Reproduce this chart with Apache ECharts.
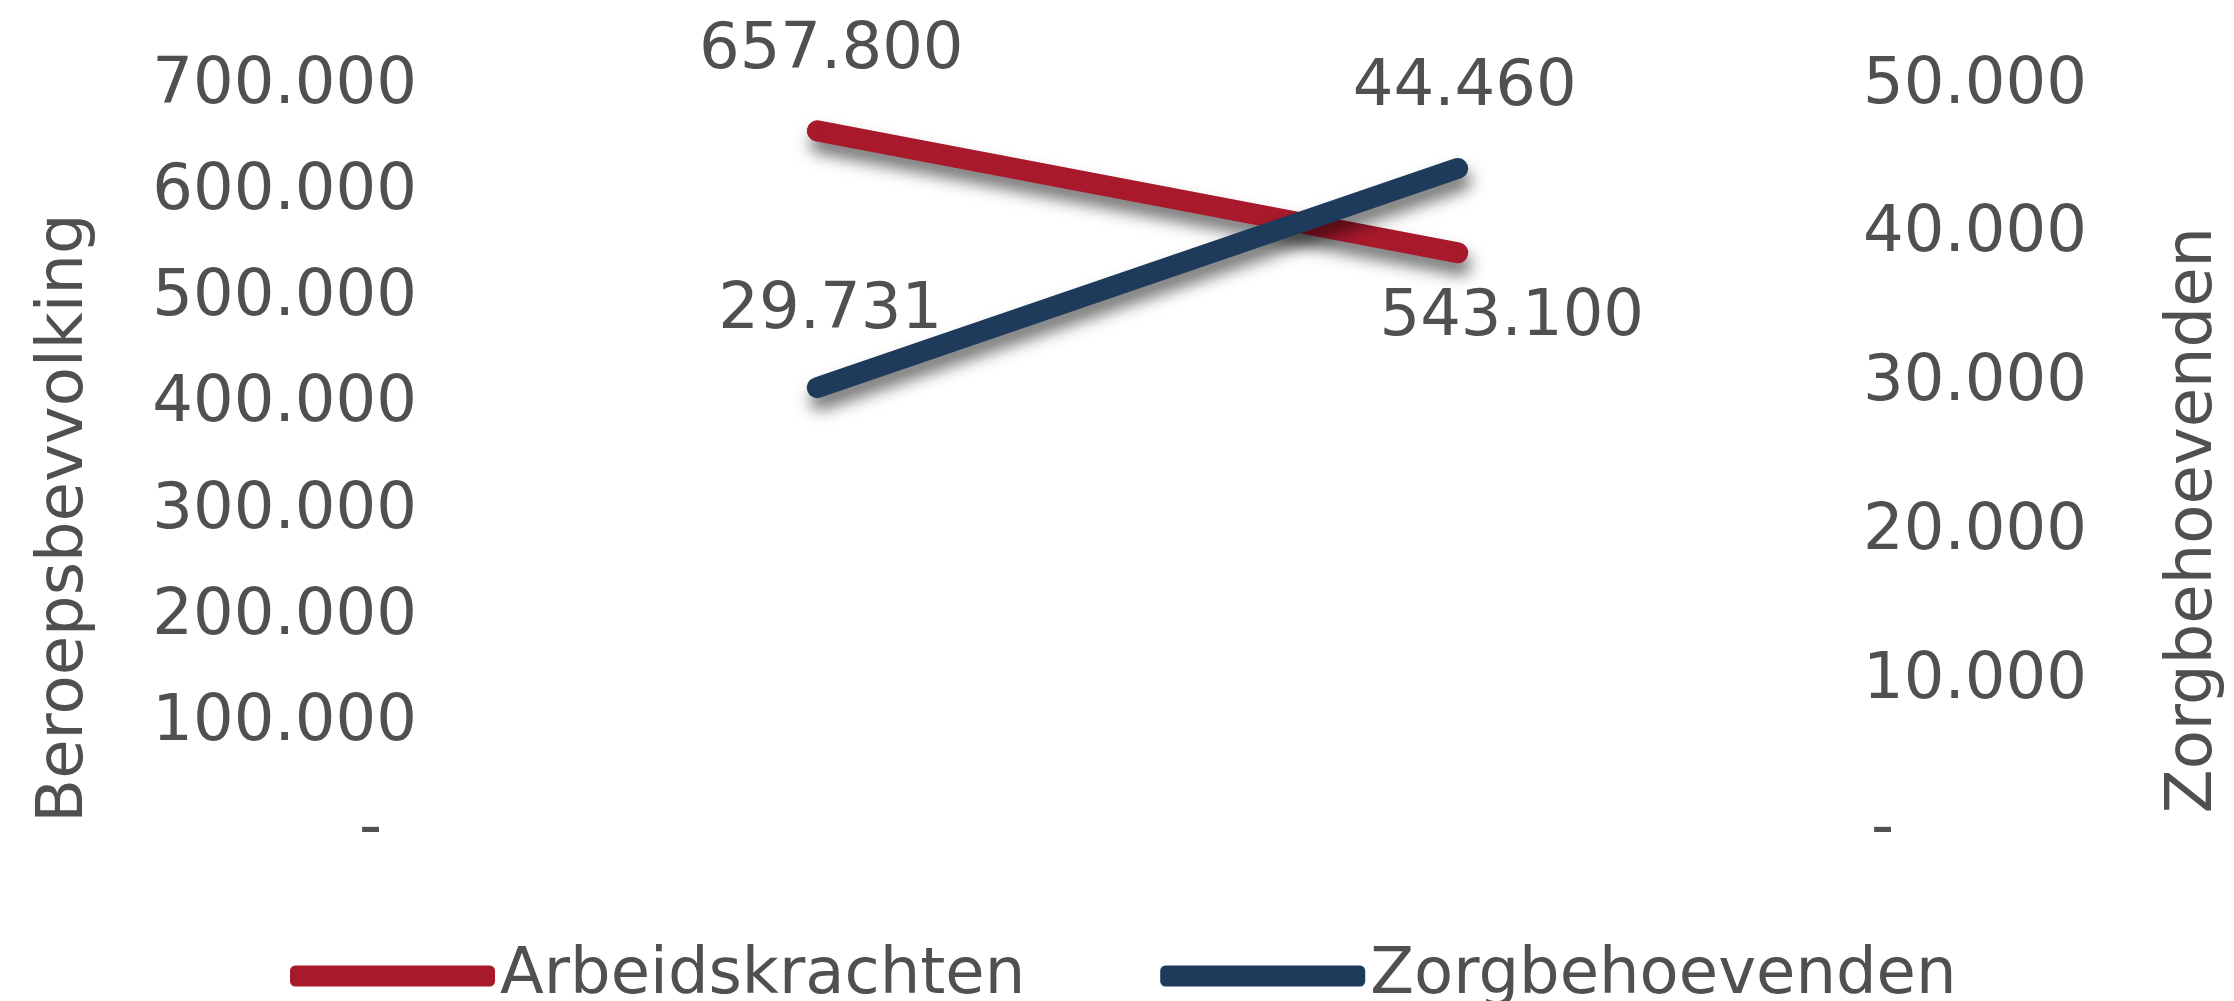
<!DOCTYPE html>
<html>
<head>
<meta charset="utf-8">
<script src="https://cdn.jsdelivr.net/npm/echarts@6/dist/echarts.min.js"></script>
<style>
  html, body { margin: 0; padding: 0; background: #fff; }
  #chart { width: 2234px; height: 1001px; }
</style>
</head>
<body>
<div id="chart"></div>
<script>
// data
var categories = ['Begin', 'Eind'];
var arbeidskrachten = [657800, 543100];   // linker as
var zorgbehoevenden = [29731, 44460];     // rechter as
var seriesNames = ['Arbeidskrachten', 'Zorgbehoevenden'];
var axisNames = ['Beroepsbevvolking', 'Zorgbehoevenden'];
var leftMax = 700000, leftStep = 100000;
var rightMax = 50000, rightStep = 10000;

var FONT = 'DejaVu Sans';
var TXT = '#505050';
var RED = '#a8192b';
var BLUE = '#1f3b5c';

// 700000 -> "700.000", 0 -> "-"
function nl(v) {
    return String(v).replace(/\B(?=(\d{3})+(?!\d))/g, '.');
}

function labelData(vals, offsets, positions) {
    var out = [];
    for (var i = 0; i < vals.length; i++) {
        out.push({
            value: vals[i],
            label: { position: positions[i], distance: 0, offset: offsets[i] }
        });
    }
    return out;
}

var chart = echarts.init(document.getElementById('chart'));

var lineShadow = {
    shadowColor: 'rgba(0,0,0,0.55)',
    shadowBlur: 16,
    shadowOffsetX: 3,
    shadowOffsetY: 12,
    cap: 'round'
};

var option = {
    animation: false,
    legend: {
        data: seriesNames,
        top: 944,
        left: 290,
        padding: 0,
        itemWidth: 205,
        itemHeight: 21,
        itemGap: 135,
        icon: 'roundRect',
        textStyle: { fontSize: 64, fontFamily: FONT, color: TXT }
    },
    grid: { left: 497, right: 453, top: 86, bottom: 171 },
    xAxis: {
        type: 'category',
        data: categories,
        boundaryGap: true,
        show: false
    },
    yAxis: [{
        type: 'value',
        position: 'left',
        min: 0, max: leftMax, interval: leftStep,
        axisLine: { show: false },
        axisTick: { show: false },
        splitLine: { show: false },
        axisLabel: {
            margin: 80,
            fontSize: 64, fontFamily: FONT, color: TXT,
            formatter: function (v) { return v === 0 ? '{z|-}' : nl(v); },
            rich: { z: { fontSize: 64, fontFamily: FONT, color: TXT, padding: [0, 35, 0, 0] } }
        },
        name: axisNames[0],
        nameLocation: 'middle',
        nameGap: 400,
        nameTextStyle: { fontSize: 64, fontFamily: FONT, color: TXT, padding: [0, 120, 0, 0] }
    }, {
        type: 'value',
        position: 'right',
        min: 0, max: rightMax, interval: rightStep,
        axisLine: { show: false },
        axisTick: { show: false },
        splitLine: { show: false },
        axisLabel: {
            margin: 85,
            fontSize: 64, fontFamily: FONT, color: TXT,
            formatter: function (v) { return v === 0 ? '{z|-}' : nl(v); },
            rich: { z: { fontSize: 64, fontFamily: FONT, color: TXT, padding: [0, 0, 0, 8] } }
        },
        name: axisNames[1],
        nameLocation: 'middle',
        nameGap: 384,
        nameTextStyle: { fontSize: 64, fontFamily: FONT, color: TXT, padding: [0, 124, 0, 0] }
    }],
    series: [{
        name: seriesNames[0],
        type: 'line',
        yAxisIndex: 0,
        data: labelData(arbeidskrachten, [[14, -46], [54, 33]], ['top', 'bottom']),
        symbol: 'circle',
        symbolSize: 2,
        itemStyle: { color: RED },
        lineStyle: Object.assign({ color: RED, width: 21 }, lineShadow),
        label: {
            show: true,
            fontSize: 64, fontFamily: FONT, color: TXT,
            formatter: function (p) { return nl(p.value); }
        },
        z: 2
    }, {
        name: seriesNames[1],
        type: 'line',
        yAxisIndex: 1,
        data: labelData(zorgbehoevenden, [[13, -43], [7, -47]], ['top', 'top']),
        symbol: 'circle',
        symbolSize: 2,
        itemStyle: { color: BLUE },
        lineStyle: Object.assign({ color: BLUE, width: 21 }, lineShadow),
        label: {
            show: true,
            fontSize: 64, fontFamily: FONT, color: TXT,
            formatter: function (p) { return nl(p.value); }
        },
        z: 3
    }]
};

chart.setOption(option);
</script>
</body>
</html>
